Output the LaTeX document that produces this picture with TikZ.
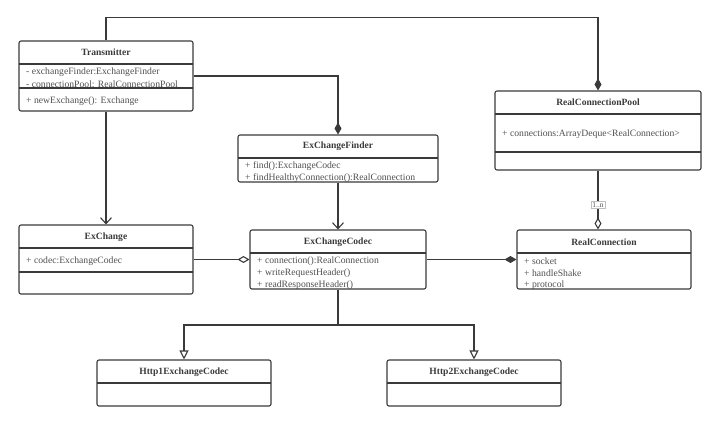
\documentclass[tikz,border=0pt]{standalone}
\usepackage{fontspec}
\setmainfont{Liberation Serif}
\usepackage{xcolor}
\usetikzlibrary{arrows.meta,positioning,calc,fit}

\definecolor{umlline}{HTML}{3A3A3A}
\definecolor{umltext}{HTML}{505050}

\tikzset{
  classbox/.style={draw=umlline,line width=1.1pt,rounded corners=2pt,inner sep=0pt},
  classtitle/.style={font=\fontsize{9.6}{11}\selectfont\bfseries,text=umlline,inner sep=0pt},
  member/.style={font=\fontsize{9.7}{11}\selectfont,text=umltext,anchor=west,inner sep=0pt},
  sep/.style={draw=umlline,line width=1.1pt},
  link/.style={draw=umlline,line width=1.1pt},
  compose/.style={link,-{Diamond[length=12pt,width=7pt]}},
  aggregate/.style={link,-{Diamond[open,length=12pt,width=7pt]}},
  assoc/.style={link,-{Straight Barb[length=6pt,width=11pt]}},
  inherit/.style={link,-{Triangle[open,length=9pt,width=9pt]}},
  mult/.style={font=\fontsize{7.5}{8}\selectfont,text=umltext,fill=white,draw=gray!50,line width=0.4pt,inner sep=1.2pt}
}

\begin{document}
\begin{tikzpicture}[x=1bp,y=-1bp]
  \useasboundingbox (0,0) rectangle (720,425);

  % Transmitter
  \node[classbox,fit={(19,41) (193,111)}] (tx) {};
  \node[classtitle] at ($(tx.north)+(0,12)$) {Transmitter};
  \draw[sep] (19,64) -- (193,64);
  \draw[sep] (19,88) -- (193,88);
  \node[member] at (26,72) {- exchangeFinder:ExchangeFinder};
  \node[member] at (26,84) {- connectionPool: RealConnectionPool};
  \node[member] at (26,101) {+ newExchange(): Exchange};

  % RealConnectionPool
  \node[classbox,fit={(495,91) (701,170)}] (rcp) {};
  \node[classtitle] at ($(rcp.north)+(0,12)$) {RealConnectionPool};
  \draw[sep] (495,114) -- (701,114);
  \draw[sep] (495,152) -- (701,152);
  \node[member] at (502,134) {+ connections:ArrayDeque<RealConnection>};

  % ExChangeFinder
  \node[classbox,fit={(238,135) (438,182)}] (ecf) {};
  \node[classtitle] at ($(ecf.north)+(0,12)$) {ExChangeFinder};
  \draw[sep] (238,158) -- (438,158);
  \node[member] at (245,166) {+ find():ExchangeCodec};
  \node[member] at (245,178) {+ findHealthyConnection():RealConnection};

  % ExChange
  \node[classbox,fit={(19,225) (193,294)}] (ex) {};
  \node[classtitle] at ($(ex.north)+(0,13)$) {ExChange};
  \draw[sep] (19,248) -- (193,248);
  \draw[sep] (19,272) -- (193,272);
  \node[member] at (26,261) {+ codec:ExchangeCodec};

  % ExChangeCodec
  \node[classbox,fit={(250,230) (426,289)}] (ecc) {};
  \node[classtitle] at ($(ecc.north)+(0,13)$) {ExChangeCodec};
  \draw[sep] (250,253) -- (426,253);
  \node[member] at (257,261) {+ connection():RealConnection};
  \node[member] at (257,273) {+ writeRequestHeader()};
  \node[member] at (257,285) {+ readResponseHeader()};

  % RealConnection
  \node[classbox,fit={(517,230) (691,289)}] (rc) {};
  \node[classtitle] at ($(rc.north)+(0,13)$) {RealConnection};
  \draw[sep] (517,253) -- (691,253);
  \node[member] at (524,261) {+ socket};
  \node[member] at (524,273) {+ handleShake};
  \node[member] at (524,285) {+ protocol};

  % Http1ExchangeCodec / Http2ExchangeCodec
  \node[classbox,fit={(97,360) (271,406)}] (hone) {};
  \node[classtitle] at ($(hone.north)+(0,13)$) {Http1ExchangeCodec};
  \draw[sep] (97,383) -- (271,383);
  \node[classbox,fit={(387,360) (561,406)}] (htwo) {};
  \node[classtitle] at ($(htwo.north)+(0,13)$) {Http2ExchangeCodec};
  \draw[sep] (387,383) -- (561,383);

  % connectors
  \draw[compose] (tx.north) -- ++(0,-23) -| (rcp.north);
  \draw[compose] (tx.east) -| (ecf.north);
  \draw[assoc] (tx.south) -- (ex.north);
  \draw[assoc] (ecf.south) -- (ecc.north);
  \draw[aggregate] (ex.east) -- (ecc.west);
  \draw[compose] (ecc.east) -- (rc.west);
  \draw[aggregate] (rcp.south) -- (rcp.south |- rc.north) node[mult,pos=0.58] {1..n};
  \coordinate (split) at (338,325);
  \draw[link] (ecc.south) -- (split);
  \draw[inherit] (split) -| (hone.north);
  \draw[inherit] (split) -| (htwo.north);
\end{tikzpicture}
\end{document}
